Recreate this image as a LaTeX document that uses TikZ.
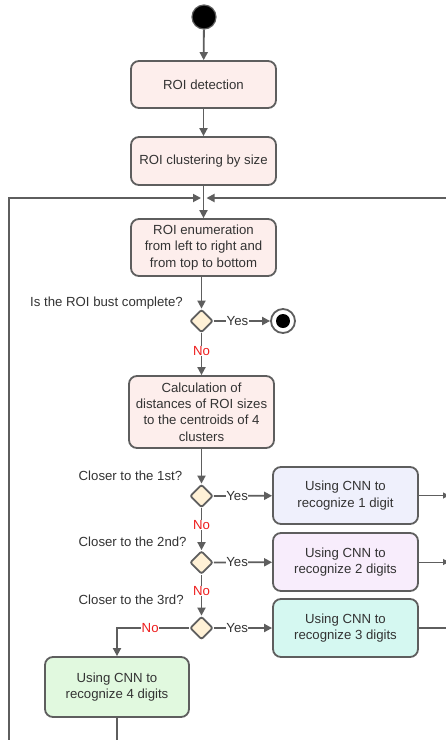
\documentclass[tikz,border=0pt]{standalone}
\usepackage{fontspec}
\setmainfont{Liberation Sans}
\usetikzlibrary{arrows.meta,shapes.geometric,calc}
\definecolor{edge}{HTML}{5E5E5E}
\definecolor{txt}{HTML}{333333}
\definecolor{pinkf}{HTML}{FDEEEC}
\definecolor{lavf}{HTML}{EFF0FC}
\definecolor{violf}{HTML}{F8EDFC}
\definecolor{cyanf}{HTML}{D5F8F1}
\definecolor{greenf}{HTML}{E1F9DF}
\definecolor{diaf}{HTML}{FFF1D6}
\definecolor{nored}{HTML}{EE1C1C}
\begin{document}
\begin{tikzpicture}[x=1pt,y=-1pt,
  font=\fontsize{13.2}{16.3}\selectfont,
  every node/.style={text=txt},
  box/.style={draw=edge,line width=1.8pt,rounded corners=8pt,align=center,inner sep=0pt,minimum width=145pt},
  dec/.style={draw=edge,line width=1.8pt,shape=diamond,fill=diaf,inner sep=0pt,minimum width=23pt,minimum height=23pt,rounded corners=2pt},
  conn/.style={draw=edge,line width=1.8pt},
  arr/.style={conn,-{Triangle[length=8pt,width=8pt]}},
  thinarr/.style={draw=edge,line width=1pt,-{Triangle[length=6pt,width=6pt]}},
  yes/.style={fill=white,inner sep=0.5pt,text=txt},
  no/.style={fill=white,inner sep=0.5pt,text=nored},
  q/.style={anchor=west,inner sep=0pt}
]
\useasboundingbox (0,0) rectangle (446,740);
\fill[white] (0,0) rectangle (446,740);

% start / end
\node[circle,draw=edge,line width=1.2pt,fill=black,minimum size=24pt,inner sep=0pt] (start) at (204,17) {};
\node[circle,draw=edge,line width=1.8pt,fill=white,minimum size=24pt,inner sep=0pt] (end) at (283,321) {};
\node[circle,fill=black,minimum size=14pt,inner sep=0pt] (endin) at (end) {};

% boxes
\node[box,fill=pinkf,minimum height=47pt] (det) at (203.5,84.5) {ROI detection};
\node[box,fill=pinkf,minimum height=48pt] (clus) at (203.5,161) {ROI clustering by size};
\node[box,fill=pinkf,minimum height=57pt] (enum) at (203.5,247.5) {ROI enumeration\\from left to right and\\from top to bottom};
\node[box,fill=pinkf,minimum height=72pt] (calc) at (201.5,412) {Calculation of\\distances of ROI sizes\\to the centroids of 4\\clusters};
\node[box,fill=lavf,minimum height=57pt] (b1) at (345.5,495.5) {Using CNN to\\recognize 1 digit};
\node[box,fill=violf,minimum height=58pt] (b2) at (345.5,562) {Using CNN to\\recognize 2 digits};
\node[box,fill=cyanf,minimum height=58pt] (b3) at (345.5,628) {Using CNN to\\recognize 3 digits};
\node[box,fill=greenf,minimum height=60pt,minimum width=144pt] (b4) at (117,687) {Using CNN to\\recognize 4 digits};

% decisions
\node[dec] (d1) at (201.5,321) {};
\node[dec] (d2) at (201.5,496) {};
\node[dec] (d3) at (201.5,562.5) {};
\node[dec] (d4) at (201.5,628) {};

% questions
\node[q] (q1) at (30,303) {Is the ROI bust complete?};
\node[q] (q2) at (78.5,476) {Closer to the 1st?};
\node[q] (q3) at (78.5,542) {Closer to the 2nd?};
\node[q] (q4) at (78.5,600) {Closer to the 3rd?};

% coordinates
\coordinate (ml) at (201,198);
\coordinate (mr) at (206.5,198);
\coordinate (tl) at (9,198);
\coordinate (bl) at (9,741);
\coordinate (tr) at (447,198);
\coordinate (o1) at (449,495.5);
\coordinate (o2) at (449,562);
\coordinate (o3) at (447,628);
\coordinate (b4end) at (117,741);

% connectors
\draw[arr] (start) -- (det);
\draw[arr] (det) -- (clus);
\draw[arr] (clus) -- (enum);
\draw[arr] (bl) -- (tl) -- (ml);
\draw[arr] (tr) -- (mr);
\draw[arr] (enum.south -| d1) -- (d1);
\draw[arr] (d1) -- node[yes,pos=0.42] {Yes} (end);
\draw[arr] (d1) -- node[no,pos=0.42] {No} (calc);
\draw[arr] (calc) -- (d2);
\draw[arr] (d2) -- node[yes,pos=0.4] {Yes} (b1);
\draw[arr] (d2) -- node[no,pos=0.4] {No} (d3);
\draw[arr] (d3) -- node[yes,pos=0.4] {Yes} (b2);
\draw[arr] (d3) -- node[no,pos=0.4] {No} (d4);
\draw[arr] (d4) -- node[yes,pos=0.4] {Yes} (b3);
\draw[arr] (d4.west) -| node[no,pos=0.27] {No} (b4.north);
\draw[thinarr] (b1) -- (o1);
\draw[thinarr] (b2) -- (o2);
\draw[conn] (b3) -- (o3);
\draw[conn] (b4) -- (b4end);
\end{tikzpicture}
\end{document}
